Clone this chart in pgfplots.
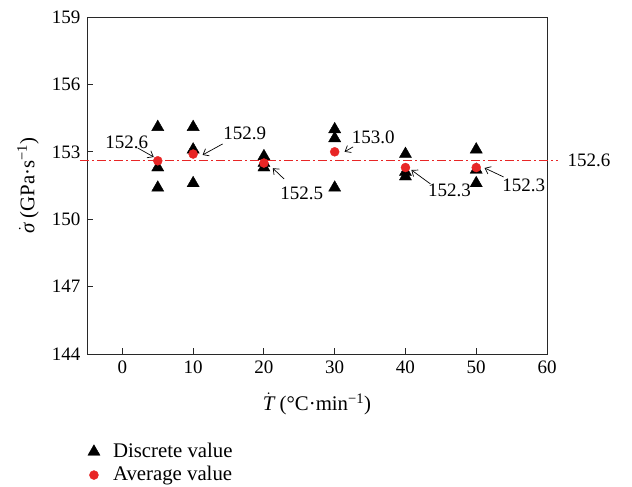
\documentclass[border=0pt]{standalone}
\usepackage{fontspec}
\setmainfont{Liberation Serif}
\usepackage{pgfplots}
\pgfplotsset{compat=1.18}
\usetikzlibrary{arrows.meta}

\definecolor{avgred}{RGB}{232,38,38}
\definecolor{axisgray}{RGB}{40,40,40}

\newcommand{\lblfont}{\fontsize{19}{22}\selectfont}
\newcommand{\txtfont}{\fontsize{20.8}{24}\selectfont}

\begin{document}
\lblfont
\begin{tikzpicture}
\path[use as bounding box] (0pt,0pt) rectangle (632pt,-487pt);
\begin{axis}[
  at={(87pt,-354pt)}, anchor=south west,
  scale only axis, width=460pt, height=337pt,
  xmin=-5, xmax=60, ymin=144, ymax=159,
  xtick={0,10,...,60}, ytick={144,147,...,159},
  tick align=inside, xtick pos=bottom, ytick pos=left,
  major tick length=6pt,
  axis line style={axisgray, line width=0.9pt},
  tick style={axisgray, line width=0.9pt},
  /pgf/number format/assume math mode=true,
  /pgf/number format/1000 sep={},
  ticklabel style={font=\lblfont},
  xlabel={$\dot{\hbox{\itshape T}}$ (°C·min\textsuperscript{\textminus1})},
  ylabel={$\dot{\hbox{\itshape σ}}$ (GPa·s\textsuperscript{\textminus1})},
  xlabel style={font=\txtfont, at={(axis description cs:0.5,-0.148)}, anchor=center},
  ylabel style={font=\txtfont, at={(axis description cs:-0.128,0.5)}, anchor=center},
  legend style={font=\txtfont, at={(axis description cs:-0.005,-0.252)}, anchor=north west,
    draw=none, fill=none, row sep=2pt, column sep=11pt},
  legend cell align=left,
  clip=false,
]
% overall mean level
\addplot[forget plot, avgred, line width=0.9pt,
  dash pattern=on 9pt off 3pt on 2pt off 3pt]
  coordinates {(-6,152.6) (61.6,152.6)};

% individual measurements
\addplot[only marks, mark=triangle*, mark size=7pt, black] coordinates {
  (5,154.1) (5,152.3) (5,151.4)
  (10,154.1) (10,153.1) (10,151.6)
  (20,152.8) (20,152.5) (20,152.3)
  (30,154.0) (30,153.6) (30,151.4)
  (40,152.9) (40,152.1) (40,151.9)
  (50,153.1) (50,152.2) (50,151.6)
};
\addlegendentry{Discrete value}

% mean at each heating rate
\addplot[only marks, mark=*, mark size=4.5pt, avgred] coordinates {
  (5,152.6) (10,152.9) (20,152.5) (30,153.0) (40,152.3) (50,152.3)
};
\addlegendentry{Average value}

% value callouts
\tikzset{callout/.style={-{Straight Barb[length=5pt,width=8pt]}, line width=0.7pt, black}}
\node[font=\lblfont] at (axis cs:0.6,153.44) {152.6};
\draw[callout] (axis cs:2.17,153.17) -- (axis cs:4.43,152.77);
\node[font=\lblfont] at (axis cs:17.3,153.84) {152.9};
\draw[callout] (axis cs:14.16,153.35) -- (axis cs:11.33,152.86);
\node[font=\lblfont] at (axis cs:25.35,151.17) {152.5};
\draw[callout] (axis cs:22.85,151.79) -- (axis cs:21.25,152.27);
\node[font=\lblfont] at (axis cs:35.45,153.66) {153.0};
\draw[callout] (axis cs:32.6,153.22) -- (axis cs:31.4,153.0);
\node[font=\lblfont] at (axis cs:46.22,151.27) {152.3};
\draw[callout] (axis cs:43.53,151.57) -- (axis cs:40.84,152.19);
\node[font=\lblfont] at (axis cs:56.7,151.52) {152.3};
\draw[callout] (axis cs:53.87,151.88) -- (axis cs:51.18,152.28);
\node[font=\lblfont, anchor=west] at (axis cs:62.0,152.6) {152.6};
\end{axis}
\end{tikzpicture}
\end{document}
